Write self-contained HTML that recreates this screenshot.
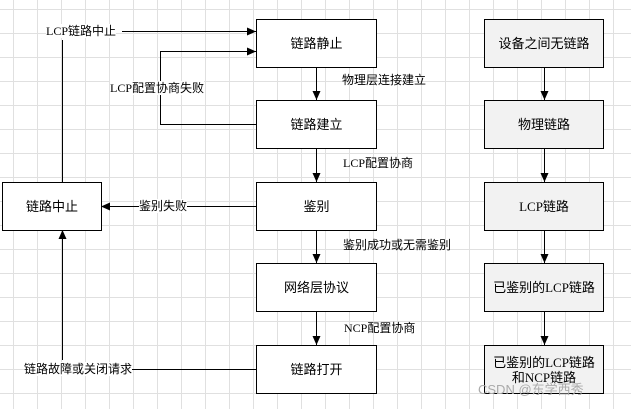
<!DOCTYPE html>
<html><head><meta charset="utf-8"><style>
body{margin:0;width:631px;height:409px;overflow:hidden;background:#fff;
background-image:linear-gradient(#e0e0e0 1px,transparent 1px),linear-gradient(90deg,#e0e0e0 1px,transparent 1px);
background-size:24px 24px;background-position:13px 9px;font-family:"Liberation Serif","Noto Sans CJK SC",sans-serif;}
.b{position:absolute;border:1px solid #000;background:#fff;display:flex;align-items:center;justify-content:center;text-align:center;font-size:13px;line-height:15px;box-sizing:border-box}
.g{background:#f2f2f2}
.t{position:absolute;font-size:12px;white-space:nowrap;background:#fff;line-height:14px}
.tn{position:absolute;font-size:12px;white-space:nowrap;line-height:14px}
svg{position:absolute;left:0;top:0}
</style></head><body>
<svg width="631" height="409"><defs><marker id="a" markerWidth="10" markerHeight="10" refX="9" refY="5" orient="auto" markerUnits="userSpaceOnUse"><path d="M0,1 L9,5 L0,9z" fill="#000"/></marker></defs>
<g stroke="#000" fill="none" stroke-width="1">
<path d="M122,31.5H256" marker-end="url(#a)"/>
<path d="M62.5,40V182"/>
<path d="M256,124.5H160.5V51.5H256" marker-end="url(#a)"/>
<path d="M316.5,67V100" marker-end="url(#a)"/>
<path d="M316.5,148V182" marker-end="url(#a)"/>
<path d="M316.5,230V263" marker-end="url(#a)"/>
<path d="M316.5,311V345" marker-end="url(#a)"/>
<path d="M256,206.5H101" marker-end="url(#a)"/>
<path d="M256,369.5H124"/>
<path d="M62.5,360V230" marker-end="url(#a)"/>
<path d="M544.5,67V100" marker-end="url(#a)"/>
<path d="M544.5,148V182" marker-end="url(#a)"/>
<path d="M544.5,230V263" marker-end="url(#a)"/>
<path d="M544.5,311V345" marker-end="url(#a)"/>
</g></svg>
<div class="b" style="left:256px;top:19px;width:121px;height:49px">链路静止</div>
<div class="b" style="left:256px;top:100px;width:121px;height:49px">链路建立</div>
<div class="b" style="left:256px;top:182px;width:121px;height:49px">鉴别</div>
<div class="b" style="left:256px;top:263px;width:121px;height:49px">网络层协议</div>
<div class="b" style="left:256px;top:345px;width:121px;height:49px">链路打开</div>
<div class="b" style="left:2px;top:182px;width:100px;height:49px">链路中止</div>
<div class="b g" style="left:484px;top:19px;width:120px;height:49px">设备之间无链路</div>
<div class="b g" style="left:484px;top:100px;width:120px;height:49px">物理链路</div>
<div class="b g" style="left:484px;top:182px;width:120px;height:49px">LCP链路</div>
<div class="b g" style="left:484px;top:263px;width:120px;height:49px">已鉴别的LCP链路</div>
<div class="b g" style="left:484px;top:345px;width:120px;height:49px">已鉴别的LCP链路<br>和NCP链路</div>
<div class="t" style="left:46px;top:24px">LCP链路中止</div>
<div class="t" style="left:110px;top:81px">LCP配置协商失败</div>
<div class="t" style="left:139px;top:199px">鉴别失败</div>
<div class="t" style="left:24px;top:362px">链路故障或关闭请求</div>
<div class="tn" style="left:342px;top:73px">物理层连接建立</div>
<div class="tn" style="left:343px;top:156px">LCP配置协商</div>
<div class="tn" style="left:343px;top:238px">鉴别成功或无需鉴别</div>
<div class="tn" style="left:344px;top:321px">NCP配置协商</div>
<div class="tn" style="left:478px;top:383px;color:#aaa;font-family:'Liberation Sans','Noto Sans CJK SC',sans-serif;font-size:13px">CSDN @东学西秀</div>
</body></html>
